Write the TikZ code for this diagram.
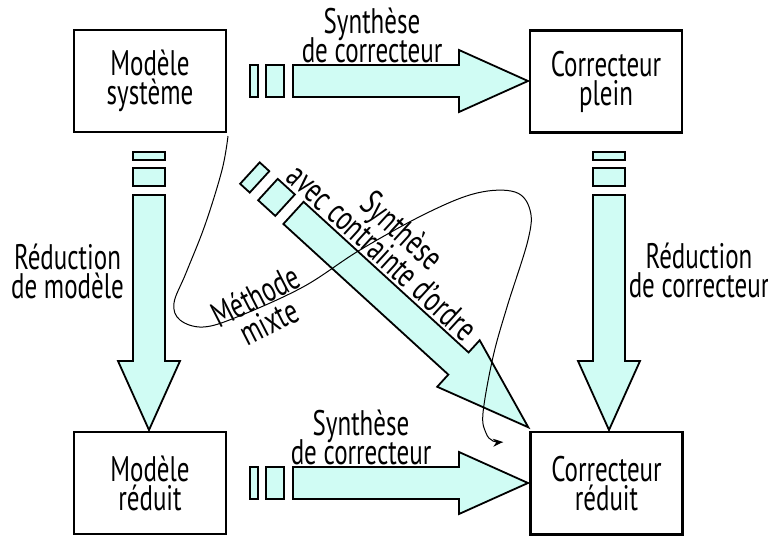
\documentclass[tikz,border=0pt]{standalone}
\usepackage{fontspec}
\setmainfont{PT Sans}
\usetikzlibrary{arrows.meta}
\definecolor{aqua}{RGB}{208,252,244}
\newcommand\lblfont{\fontsize{25}{20.5}\selectfont\lineskiplimit=-30pt\relax}
\tikzset{
  box/.style={draw, line width=2.6pt, minimum width=152pt, minimum height=72pt,
    yscale=1.42, align=center, font=\lblfont, inner sep=0pt},
  lbl/.style={align=center, font=\lblfont, yscale=1.42, inner sep=0pt},
  fatpart/.style={draw, fill=aqua, line width=1.8pt, line join=miter},
  curve/.style={line width=1pt, -{Stealth[length=10pt,width=8pt]}}
}
\newcommand\fatarrow[1]{%
  \begin{scope}[#1]
    \path[fatpart] (-278,-16) rectangle (-270,16);
    \path[fatpart] (-262,-16) rectangle (-244,16);
    \path[fatpart] (-235,-16) -- (-69,-16) -- (-69,-31) -- (0,0) -- (-69,31) -- (-69,16) -- (-235,16) -- cycle;
  \end{scope}}
\begin{document}
\begin{tikzpicture}[x=1pt,y=-1pt]
\useasboundingbox (0,0) rectangle (768,536);

% boxes
\node[box] (ms) at (150,81) {Modèle\\système};
\node[box] (cp) at (606,81.5) {Correcteur\\plein};
\node[box] (mr) at (150,483) {Modèle\\réduit};
\node[box] (cr) at (606.5,483.3) {Correcteur\\réduit};

% fat arrows
\fatarrow{shift={(528,81)}}
\fatarrow{shift={(528,483)}}
\fatarrow{shift={(149,430)}, rotate=-90}
\fatarrow{shift={(609,430)}, rotate=-90}
\begin{scope}[shift={(528.3,427.3)}, rotate=-42.4]
  \path[fatpart] (-377,-14.5) rectangle (-364,14.5);
  \path[fatpart] (-352.6,-14.5) rectangle (-329.4,14.5);
  \path[fatpart] (-318,-15) -- (-94.6,-15) -- (-94.6,-31.5) -- (0,0) -- (-94.6,31.5) -- (-94.6,15) -- (-318,15) -- cycle;
\end{scope}

% mixed-method curve
\coordinate (cstart) at (228,136);
\coordinate (cend) at (503,442);
\draw[curve] plot[smooth, tension=0.6] coordinates {(cstart) (222,170) (205,225) (186,273) (174,303) (180,320) (203,327) (237,317) (303,287) (360,250) (427,213) (477,193) (515,192) (530,210) (528,240) (507,307) (493,357) (483,413) (486,433) (493,441) (cend)};

% labels
\node[lbl] (l1) at (372,35) {Synthèse\\de correcteur};
\node[lbl] (l2) at (361,437) {Synthèse\\de correcteur};
\node[lbl] (l3) at (67.5,271) {Réduction\\de modèle};
\node[lbl] (l4) at (699,270) {Réduction\\de correcteur};
\node[rotate=-42.4, lbl] (l5) at (392.5,241) {Synthèse\\avec contrainte d'ordre};
\node[rotate=27, lbl] (l6) at (262,309) {Méthode\\mixte};
\end{tikzpicture}
\end{document}
